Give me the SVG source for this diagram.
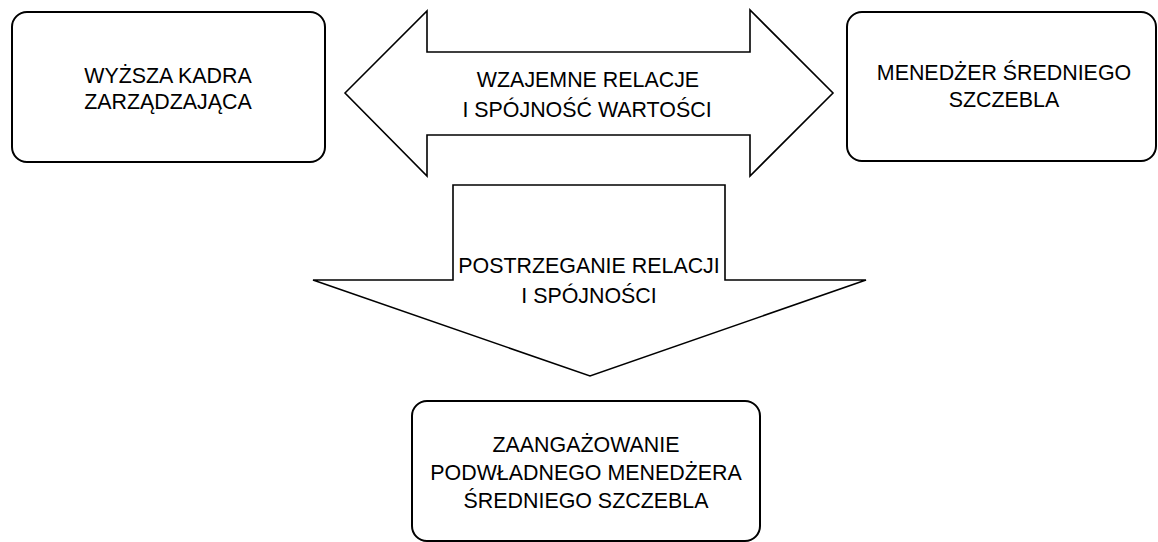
<svg xmlns="http://www.w3.org/2000/svg" width="1158" height="542" viewBox="0 0 1158 542">
  <style>
    .box { fill: #ffffff; stroke: #000000; stroke-width: 2; }
    .arrow { fill: #ffffff; stroke: #000000; stroke-width: 1.6; stroke-linejoin: miter; }
    .lbl { font-family: "Liberation Sans", Arial, sans-serif; font-size: 21.4px; fill: #000000; text-anchor: middle; }
  </style>
  <rect width="1158" height="542" fill="#ffffff"/>

  <!-- connectors: block arrows -->
  <g id="connectors">
    <g id="mutual-relations">
      <polygon class="arrow" points="345,93 427,11 427,52 750,52 750,10 833,93 750,176 750,135 427,135 427,176"/>
      <text class="lbl" x="588" y="87">WZAJEMNE RELACJE</text>
      <text class="lbl" x="587" y="117">I SPÓJNOŚĆ WARTOŚCI</text>
    </g>
    <g id="perception">
      <polygon class="arrow" points="453,185 725,185 725,280 866,280 590,376 313,280 453,280"/>
      <text class="lbl" x="589" y="273">POSTRZEGANIE RELACJI</text>
      <text class="lbl" x="589" y="303">I SPÓJNOŚCI</text>
    </g>
  </g>

  <g id="senior-management">
    <rect class="box" x="12" y="12" width="313" height="150" rx="15"/>
    <text class="lbl" x="168" y="83">WYŻSZA KADRA</text>
    <text class="lbl" x="168" y="109">ZARZĄDZAJĄCA</text>
  </g>

  <g id="middle-manager">
    <rect class="box" x="847" y="12" width="309" height="149" rx="15"/>
    <text class="lbl" x="1004" y="80">MENEDŻER ŚREDNIEGO</text>
    <text class="lbl" x="1004" y="107">SZCZEBLA</text>
  </g>

  <g id="engagement">
    <rect class="box" x="412" y="401" width="348" height="140" rx="15"/>
    <text class="lbl" x="586" y="452">ZAANGAŻOWANIE</text>
    <text class="lbl" x="586" y="480">PODWŁADNEGO MENEDŻERA</text>
    <text class="lbl" x="586" y="508">ŚREDNIEGO SZCZEBLA</text>
  </g>
</svg>
